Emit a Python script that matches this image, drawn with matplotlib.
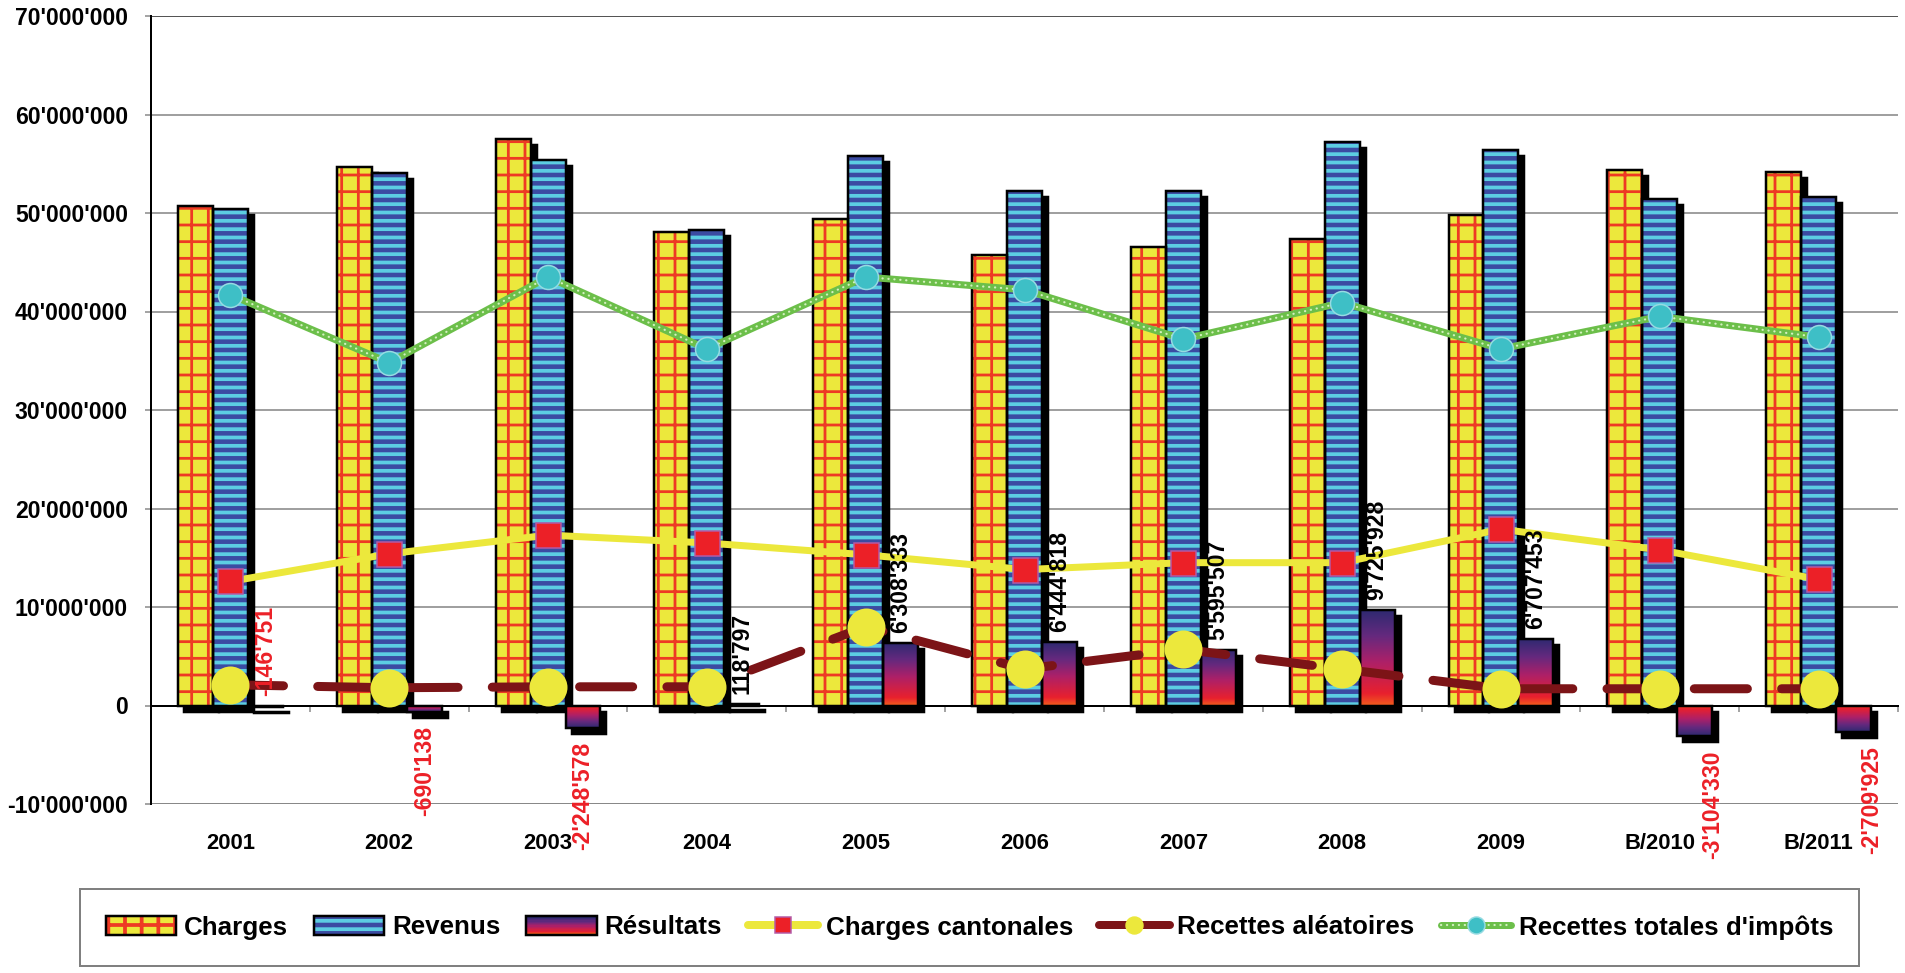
import numpy as np
import matplotlib
matplotlib.use("Agg")
import matplotlib.pyplot as plt
from matplotlib import transforms
from matplotlib.patches import Rectangle
from matplotlib.lines import Line2D
from matplotlib.legend_handler import HandlerTuple, HandlerBase
from matplotlib.colors import LinearSegmentedColormap
from matplotlib.ticker import FuncFormatter, FixedLocator

# ---------------- data ----------------
categories = ['2001', '2002', '2003', '2004', '2005', '2006', '2007', '2008', '2009', 'B/2010', 'B/2011']
charges = [50.67e6, 54.7e6, 57.5e6, 48.1e6, 49.4e6, 45.7e6, 46.5e6, 47.4e6, 49.8e6, 54.4e6, 54.2e6]
revenus = [50.44e6, 54.1e6, 55.4e6, 48.3e6, 55.8e6, 52.2e6, 52.2e6, 57.2e6, 56.4e6, 51.4e6, 51.6e6]
resultats = [-146751, -690138, -2248578, 118797, 6308333, 6444818, 5595507, 9725928, 6707453, -3104330, -2709925]
charges_cantonales = [12.6e6, 15.4e6, 17.3e6, 16.5e6, 15.3e6, 13.8e6, 14.5e6, 14.5e6, 17.9e6, 15.8e6, 12.8e6]
recettes_aleatoires = [2.1e6, 1.8e6, 1.9e6, 1.9e6, 8.0e6, 3.7e6, 5.7e6, 3.7e6, 1.7e6, 1.7e6, 1.7e6]
recettes_totales = [41.7e6, 34.8e6, 43.5e6, 36.2e6, 43.5e6, 42.2e6, 37.2e6, 40.9e6, 36.2e6, 39.5e6, 37.4e6]
y_ticks = [-10e6, 0, 10e6, 20e6, 30e6, 40e6, 50e6, 60e6, 70e6]
series_names = ['Charges', 'Revenus', 'Résultats', 'Charges cantonales',
                'Recettes aléatoires', "Recettes totales d'impôts"]

# ---------------- style ----------------
plt.rcParams['font.family'] = ['Liberation Sans', 'DejaVu Sans']

DPI = 100
W, H = 1906, 973
fig = plt.figure(figsize=(W / DPI, H / DPI), dpi=DPI)
ax = fig.add_axes([151 / W, 1 - 804 / H, (1898 - 151) / W, (804 - 16) / H])

YELLOW = '#ece83c'
GRIDRED = '#ee3a24'
BLUE_D = '#3b4ba2'
CYAN = '#5ccde2'
DARKRED = '#7c1417'
GREEN = '#6cbf4a'
TEAL = '#3ebfc6'
RED = '#ec2027'
HATCH_LW_CH = 2.0
HATCH_LW_REV = 2.7

cmap_res = LinearSegmentedColormap.from_list(
    'res', [(0.0, '#f25a1e'), (0.12, '#e8202e'), (0.45, '#ad2068'),
            (0.72, '#65297e'), (1.0, '#2c2a70')])

n = len(categories)
centers = np.arange(n) + 0.5
bw = 0.22
x_ch = centers - bw
x_rev = centers
x_res = centers + bw

px = 1.0 / DPI  # inch per pixel
pt = 72.0 / DPI  # points per pixel
shadow_tr = ax.transData + transforms.ScaledTranslation(6 * px, -6 * px, fig.dpi_scale_trans)


def set_hlw(patches, lw):
    for p in patches:
        if hasattr(p, 'set_hatch_linewidth'):
            p.set_hatch_linewidth(lw)


# bars (fill with hatch)
plt.rcParams['hatch.linewidth'] = HATCH_LW_CH
b_ch = ax.bar(x_ch, charges, bw, facecolor=YELLOW, edgecolor=GRIDRED, hatch='+', linewidth=0, zorder=2)
set_hlw(b_ch.patches, HATCH_LW_CH)
plt.rcParams['hatch.linewidth'] = HATCH_LW_REV
b_rev = ax.bar(x_rev, revenus, bw, facecolor=BLUE_D, edgecolor=CYAN, hatch='--', linewidth=0, zorder=2)
set_hlw(b_rev.patches, HATCH_LW_REV)
b_res = ax.bar(x_res, resultats, bw, facecolor='none', edgecolor='none', linewidth=0, zorder=2)

# shadows
for cont in (b_ch, b_rev, b_res):
    for p in cont.patches:
        ax.add_patch(Rectangle(p.get_xy(), p.get_width(), p.get_height(), transform=shadow_tr,
                               facecolor='black', edgecolor='black', linewidth=2.5 * pt, zorder=1.5))

# gradient fill of results bars
grad = np.linspace(0, 1, 256).reshape(-1, 1)
for p, v in zip(b_res.patches, resultats):
    x0 = p.get_x()
    im = ax.imshow(grad, cmap=cmap_res, extent=(x0, x0 + p.get_width(), 0, v), origin='lower',
                   aspect='auto', interpolation='bilinear', zorder=2.05)
    im.set_clip_path(p)

# outlines
for cont in (b_ch, b_rev, b_res):
    for p in cont.patches:
        ax.add_patch(Rectangle(p.get_xy(), p.get_width(), p.get_height(), transform=ax.transData,
                               facecolor='none', edgecolor='black', linewidth=2.5 * pt, zorder=2.2))

# result labels
def fmt(v):
    return f"{v:,.0f}".replace(',', "'")

for p, v in zip(b_res.patches, resultats):
    cx = p.get_x() + p.get_width() / 2
    dx = 0
    if v >= 0 or abs(v) < 5e5:
        y, off, va = max(v, 0), 10, 'bottom'
    else:
        y, off, va = v, -14, 'top'
        if v < -2.5e6:   # keep clear of the category label
            dx = 18
    ax.annotate(fmt(v), (cx, y), xytext=(dx, off), textcoords='offset pixels', rotation=90,
                ha='center', va=va, fontsize=23 * pt, fontweight='bold',
                color=(RED if v < 0 else 'black'), zorder=5)

# lines
ax.plot(centers, charges_cantonales, color=YELLOW, lw=7 * pt, solid_capstyle='round', zorder=3)
ax.plot(centers, charges_cantonales, ls='none', marker='s', ms=25 * pt, mfc=RED, mec='#b45aa6',
        mew=1.5 * pt, zorder=3.5)

ax.plot(centers, recettes_aleatoires, color=DARKRED, lw=9 * pt, dashes=(5.9, 3.8),
        dash_capstyle='round', zorder=3)
ax.plot(centers, recettes_aleatoires, ls='none', marker='o', ms=38 * pt, mfc=YELLOW, mec=YELLOW,
        mew=0, zorder=3.5)

ax.plot(centers, recettes_totales, color=GREEN, lw=7 * pt, solid_capstyle='round', zorder=3)
ax.plot(centers, recettes_totales, color='#d4f0c0', lw=2.2 * pt, dashes=(0.1, 2.6),
        dash_capstyle='round', zorder=3.1)
ax.plot(centers, recettes_totales, ls='none', marker='o', ms=24 * pt, mfc=TEAL, mec='#96dbe2',
        mew=1.5 * pt, zorder=3.5)

# axes
ax.set_xlim(0, n)
ax.set_ylim(y_ticks[0], y_ticks[-1])
ax.yaxis.set_major_locator(FixedLocator(y_ticks))
ax.yaxis.set_major_formatter(FuncFormatter(lambda v, _: fmt(v)))
ax.tick_params(axis='y', length=6 * pt, width=1.5 * pt, color='#888888', pad=17 * pt,
               labelsize=23 * pt)
for lab in ax.get_yticklabels():
    lab.set_fontweight('bold')

ax.set_axisbelow(True)
ax.grid(axis='y', color='#a0a0a0', linewidth=2 * pt, zorder=0)
gls = ax.yaxis.get_gridlines()
gls[0].set_color('#888888'); gls[0].set_linewidth(3 * pt)
gls[-1].set_color('#555555'); gls[-1].set_linewidth(2 * pt)

for s in ('top', 'right'):
    ax.spines[s].set_visible(False)
ax.spines['left'].set_linewidth(2 * pt)
ax.spines['bottom'].set_position(('data', 0))
ax.spines['bottom'].set_linewidth(2 * pt)
ax.spines['bottom'].set_zorder(1.4)
ax.set_xticks(np.arange(n + 1))
ax.tick_params(axis='x', length=6 * pt, width=1.5 * pt, color='#888888', labelbottom=False)

lab_tr = transforms.blended_transform_factory(ax.transData, fig.transFigure)
for c, name in zip(centers, categories):
    ax.text(c, 1 - 849 / H, name, transform=lab_tr, ha='center', va='baseline',
            fontsize=22 * pt, fontweight='bold')

# legend
class GradientHandler(HandlerBase):
    def create_artists(self, legend, orig_handle, xdescent, ydescent, width, height, fontsize, trans):
        arts = []
        k = 14
        for i in range(k):
            arts.append(Rectangle((-xdescent, -ydescent + i * height / k), width, height / k + 0.3,
                                  facecolor=cmap_res(i / (k - 1)), edgecolor='none', transform=trans))
        arts.append(Rectangle((-xdescent, -ydescent), width, height, facecolor='none',
                              edgecolor='black', linewidth=2.5 * pt, transform=trans))
        return arts

plt.rcParams['hatch.linewidth'] = HATCH_LW_CH
h_ch_fill = Rectangle((0, 0), 1, 1, facecolor=YELLOW, edgecolor=GRIDRED, hatch='+', linewidth=0)
set_hlw([h_ch_fill], HATCH_LW_CH)
plt.rcParams['hatch.linewidth'] = HATCH_LW_REV
h_rev_fill = Rectangle((0, 0), 1, 1, facecolor=BLUE_D, edgecolor=CYAN, hatch='--', linewidth=0)
set_hlw([h_rev_fill], HATCH_LW_REV)
h_ch = (h_ch_fill, Rectangle((0, 0), 1, 1, facecolor='none', edgecolor='black', linewidth=2.5 * pt))
h_rev = (h_rev_fill, Rectangle((0, 0), 1, 1, facecolor='none', edgecolor='black', linewidth=2.5 * pt))
h_res = Rectangle((0, 0), 1, 1)
h_cc = Line2D([], [], color=YELLOW, lw=8 * pt, marker='s', ms=16 * pt, mfc=RED, mec='#b45aa6',
              mew=1.5 * pt, solid_capstyle='round')
h_ra = Line2D([], [], color=DARKRED, lw=8 * pt, marker='o', ms=17 * pt, mfc=YELLOW, mec=YELLOW,
              solid_capstyle='round')
h_rt = (Line2D([], [], color=GREEN, lw=7 * pt, solid_capstyle='round'),
        Line2D([], [], color='#d4f0c0', lw=2.2 * pt, dashes=(0.1, 2.6), dash_capstyle='round'),
        Line2D([], [], ls='none', marker='o', ms=17 * pt, mfc=TEAL, mec='#96dbe2', mew=1.5 * pt))

leg = fig.legend([h_ch, h_rev, h_res, h_cc, h_ra, h_rt], series_names,
                 loc='upper left', bbox_to_anchor=(80 / W, 1 - 889 / H), bbox_transform=fig.transFigure,
                 borderaxespad=0, borderpad=1.0, ncol=6, columnspacing=1.0, handlelength=2.7,
                 handletextpad=0.3, fancybox=False, framealpha=1, edgecolor='#808080',
                 prop={'weight': 'bold', 'size': 26 * pt},
                 handler_map={h_res: GradientHandler(), tuple: HandlerTuple(ndivide=1, pad=0)})
leg.get_frame().set_linewidth(2 * pt)

fig.savefig('out.png', dpi=DPI)
